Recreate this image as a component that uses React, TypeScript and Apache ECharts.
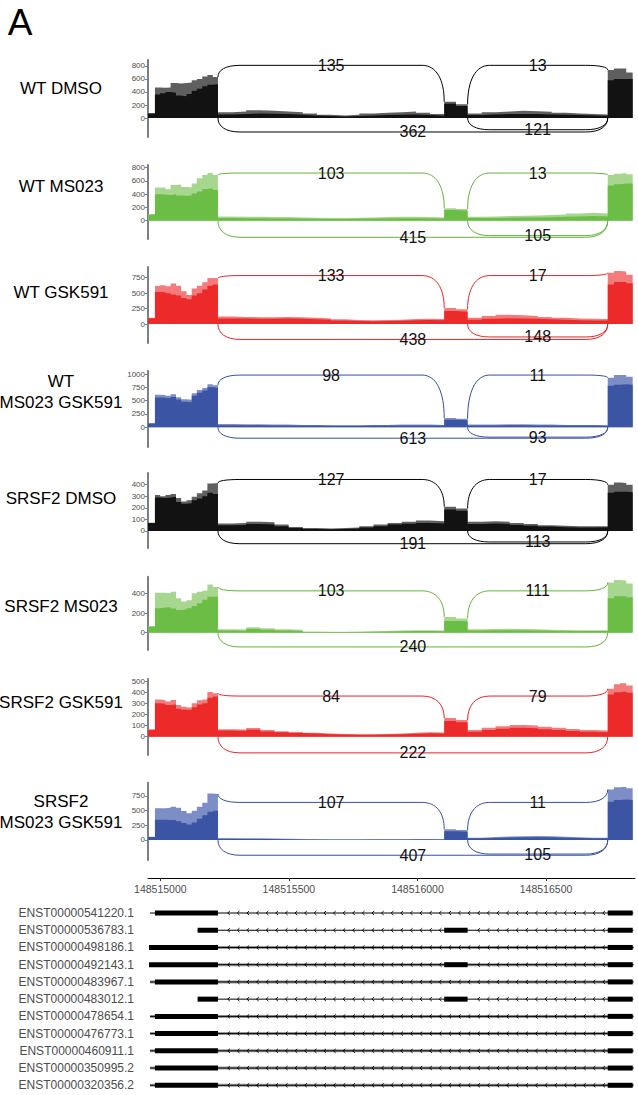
import React, { useEffect, useRef } from "react";
import * as echarts from "echarts";

// ---------------- DATA ----------------
// coverage bins (genomic start of each bin); last bin ends at binEnd
const binStarts = [
  148514952,
  148514979, 148514999, 148515020, 148515040, 148515061, 148515081, 148515102, 148515122, 148515142, 148515163, 148515183, 148515204,
  148515224, 148515279, 148515334, 148515389, 148515444, 148515499, 148515554, 148515609, 148515664, 148515719, 148515774, 148515829, 148515884, 148515939, 148515994, 148516049,
  148516104, 148516150,
  148516195, 148516250, 148516304, 148516359, 148516413, 148516468, 148516522, 148516577, 148516631, 148516686,
  148516740, 148516764, 148516788, 148516812,
];
const binEnd = 148516837;

const panelNames = [
  "WT DMSO", "WT MS023", "WT GSK591", "WT\nMS023 GSK591",
  "SRSF2 DMSO", "SRSF2 MS023", "SRSF2 GSK591", "SRSF2\nMS023 GSK591",
];

const wtDmsoHi = [75, 470, 465, 470, 540, 530, 540, 545, 580, 600, 640, 660, 630, 90, 100, 120, 110, 100, 90, 70, 50, 40, 50, 70, 80, 90, 100, 80, 60, 250, 210, 70, 90, 100, 110, 105, 95, 80, 70, 60, 55, 740, 760, 760, 700];
const wtDmsoLo = [70, 360, 380, 400, 390, 345, 335, 370, 420, 450, 490, 510, 520, 55, 60, 70, 65, 60, 50, 40, 30, 25, 30, 40, 45, 50, 55, 45, 35, 220, 185, 45, 55, 60, 60, 60, 55, 50, 45, 40, 35, 580, 600, 600, 600];
const wtMs023Hi = [100, 500, 500, 475, 540, 545, 510, 505, 560, 640, 690, 720, 690, 65, 60, 60, 55, 55, 50, 45, 40, 40, 45, 50, 55, 60, 60, 55, 50, 190, 175, 60, 65, 70, 75, 80, 85, 95, 110, 120, 110, 690, 710, 720, 700];
const wtMs023Lo = [90, 400, 395, 390, 400, 380, 375, 380, 410, 440, 480, 490, 465, 40, 38, 38, 35, 35, 32, 28, 25, 25, 28, 32, 35, 38, 38, 35, 32, 160, 150, 40, 42, 45, 48, 50, 52, 58, 65, 70, 65, 530, 550, 560, 560];
const wtGsk591Hi = [100, 615, 630, 610, 655, 620, 530, 470, 575, 620, 675, 745, 740, 120, 115, 110, 110, 115, 110, 100, 90, 75, 65, 60, 65, 70, 80, 85, 80, 260, 240, 100, 130, 150, 140, 130, 115, 100, 90, 85, 80, 830, 860, 850, 800];
const wtGsk591Lo = [95, 520, 515, 500, 480, 460, 420, 400, 460, 500, 560, 620, 640, 90, 88, 85, 85, 88, 85, 75, 68, 55, 48, 45, 48, 52, 60, 65, 60, 210, 200, 70, 85, 95, 90, 85, 75, 68, 62, 58, 55, 640, 680, 680, 660];
const wtComboHi = [75, 610, 605, 590, 620, 565, 525, 515, 640, 700, 735, 810, 790, 60, 55, 55, 50, 50, 45, 45, 40, 40, 40, 45, 45, 50, 50, 50, 45, 175, 160, 50, 50, 55, 55, 50, 50, 45, 45, 45, 40, 930, 980, 980, 950];
const wtComboLo = [70, 560, 555, 545, 570, 520, 480, 470, 590, 650, 690, 750, 740, 40, 38, 38, 35, 35, 32, 32, 28, 28, 28, 32, 32, 35, 35, 35, 32, 140, 130, 35, 35, 38, 38, 35, 35, 32, 32, 32, 28, 780, 800, 810, 800];
const srsf2DmsoHi = [72, 310, 300, 310, 320, 285, 255, 265, 295, 325, 350, 410, 415, 65, 70, 80, 75, 55, 35, 25, 22, 25, 30, 40, 55, 70, 80, 90, 85, 210, 195, 80, 85, 80, 70, 60, 50, 45, 40, 40, 42, 400, 420, 415, 400];
const srsf2DmsoLo = [68, 290, 285, 290, 295, 250, 235, 240, 265, 280, 300, 330, 320, 50, 52, 60, 55, 40, 25, 18, 15, 18, 22, 30, 42, 55, 62, 70, 65, 185, 175, 60, 65, 60, 52, 45, 38, 32, 30, 30, 32, 330, 340, 340, 335];
const srsf2Ms023Hi = [68, 405, 405, 400, 415, 350, 318, 330, 400, 415, 425, 490, 465, 35, 32, 55, 45, 35, 30, 12, 10, 10, 12, 15, 18, 22, 25, 25, 22, 160, 145, 35, 38, 40, 38, 35, 30, 28, 25, 25, 25, 510, 535, 530, 500];
const srsf2Ms023Lo = [60, 248, 255, 258, 245, 230, 235, 248, 270, 300, 335, 365, 365, 22, 20, 38, 30, 22, 18, 7, 6, 6, 7, 9, 11, 14, 16, 16, 14, 120, 115, 22, 24, 25, 24, 22, 20, 18, 16, 16, 16, 350, 370, 370, 360];
const srsf2Gsk591Hi = [66, 335, 330, 315, 330, 285, 270, 263, 300, 328, 335, 402, 390, 68, 65, 78, 60, 50, 42, 35, 30, 25, 22, 22, 25, 30, 35, 40, 38, 168, 150, 60, 80, 95, 105, 100, 90, 80, 70, 60, 55, 430, 470, 480, 460];
const srsf2Gsk591Lo = [60, 300, 295, 285, 290, 250, 242, 240, 265, 290, 300, 350, 360, 55, 52, 62, 48, 40, 33, 28, 23, 19, 17, 17, 19, 23, 27, 31, 29, 140, 130, 45, 60, 72, 80, 76, 68, 60, 52, 45, 40, 380, 400, 405, 395];
const srsf2ComboHi = [57, 540, 540, 550, 565, 550, 495, 455, 500, 565, 635, 790, 785, 30, 28, 28, 25, 20, 15, 12, 10, 10, 10, 12, 12, 14, 15, 15, 14, 185, 170, 40, 50, 60, 65, 70, 65, 55, 45, 40, 40, 860, 900, 905, 880];
const srsf2ComboLo = [50, 345, 345, 340, 340, 320, 290, 265, 300, 360, 420, 480, 500, 20, 18, 18, 16, 13, 10, 8, 7, 7, 7, 8, 8, 9, 10, 10, 9, 150, 140, 28, 35, 42, 45, 48, 45, 38, 32, 28, 28, 650, 680, 690, 680];

// y tick labels per panel
const ticks800 = [0, 200, 400, 600, 800];
const ticks750 = [0, 250, 500, 750];
const ticks1000 = [0, 250, 500, 750, 1000];
const ticks400 = [0, 100, 200, 300, 400];
const ticks400b = [0, 200, 400];
const ticks500 = [0, 100, 200, 300, 400, 500];

// splice junctions: J1 exon1->exon2, J2 exon2->exon3, J3 exon1->exon3, J2b exon2->exon3 (drawn below)
const junctionStarts = [148515224, 148516195, 148515224, 148516195];
const junctionEnds = [148516104, 148516740, 148516740, 148516740];
const junctionUp = [true, true, false, false];
const wtDmsoJunctions = [135, 13, 362, 121];
const wtMs023Junctions = [103, 13, 415, 105];
const wtGsk591Junctions = [133, 17, 438, 148];
const wtComboJunctions = [98, 11, 613, 93];
const srsf2DmsoJunctions = [127, 17, 191, 113];
const srsf2Ms023Junctions = [103, 111, 240, null];
const srsf2Gsk591Junctions = [84, 79, 222, null];
const srsf2ComboJunctions = [107, 11, 407, 105];

// genomic axis
const xTicks = [148515000, 148515500, 148516000, 148516500];

// transcripts
const transcriptNames = [
  "ENST00000541220.1", "ENST00000536783.1", "ENST00000498186.1", "ENST00000492143.1",
  "ENST00000483967.1", "ENST00000483012.1", "ENST00000478654.1", "ENST00000476773.1",
  "ENST00000460911.1", "ENST00000350995.2", "ENST00000320356.2",
];
const transcriptStarts = [148514960, 148515145, 148514956, 148514956, 148514960, 148515145, 148514960, 148514960, 148514960, 148514960, 148514960];
const transcriptEnds = [148516840, 148516840, 148516840, 148516840, 148516840, 148516840, 148516840, 148516840, 148516840, 148516840, 148516840];
const exonsLong = [[148514979, 148515224], [148516740, 148516837]];
const exonsShortMid = [[148515145, 148515224], [148516104, 148516195], [148516740, 148516837]];
const exonsFull = [[148514956, 148515224], [148516740, 148516837]];
const exonsFullMid = [[148514956, 148515224], [148516104, 148516195], [148516740, 148516837]];
const transcriptExons = [exonsLong, exonsShortMid, exonsFull, exonsFullMid, exonsLong, exonsShortMid, exonsLong, exonsLong, exonsLong, exonsLong, exonsLong];

// ---------------- LAYOUT / STYLE ----------------
const FONT = '"Liberation Sans", Arial, Helvetica, sans-serif';
const X_MIN = 148514952;
const X_MAX = 148516846;
const GRID_LEFT = 148;
const GRID_RIGHT = 3;
const panelTopPx = [60, 165, 267, 370.7, 473, 576.7, 679, 782.7];
const panelBottomPx = [137, 239, 343, 447, 548, 650, 755, 860];
const panelYMin = [-292, -276, -308, -370, -147, -176, -164, -341];
const panelYMax = [892, 841, 924, 1062, 501, 569, 518, 976];
const upperLevel = [810, 720, 785, 980, 445, 425, 365, 640];
const lowerLevels = [[-215, -180], [-250, -225], [-250, -210], [-205, -185], [-110, -95], [-145], [-145], [-260, -240]];
const labelCenterY = [88, 186, 292, 392, 498, 606, 702, 812];
const haloRows = [2, 3, 4, 6, 7, 8, 9, 10];

const palette: Record<string, { hi: string; lo: string; arc: string }> = {
  black: { hi: "#5f5f5f", lo: "#121212", arc: "#000000" },
  green: { hi: "#a7d78e", lo: "#6bbd45", arc: "#5fb53b" },
  red: { hi: "#f37b7b", lo: "#ed2a2a", arc: "#e82323" },
  blue: { hi: "#7d8ec7", lo: "#3b54a3", arc: "#3450a2" },
};
const panelColor = ["black", "green", "red", "blue", "black", "green", "red", "blue"];

const panelHi = [wtDmsoHi, wtMs023Hi, wtGsk591Hi, wtComboHi, srsf2DmsoHi, srsf2Ms023Hi, srsf2Gsk591Hi, srsf2ComboHi];
const panelLo = [wtDmsoLo, wtMs023Lo, wtGsk591Lo, wtComboLo, srsf2DmsoLo, srsf2Ms023Lo, srsf2Gsk591Lo, srsf2ComboLo];
const panelTicks = [ticks800, ticks800, ticks750, ticks1000, ticks400, ticks400b, ticks500, ticks750];
const panelJunctions = [wtDmsoJunctions, wtMs023Junctions, wtGsk591Junctions, wtComboJunctions, srsf2DmsoJunctions, srsf2Ms023Junctions, srsf2Gsk591Junctions, srsf2ComboJunctions];

function coverageAt(arr: number[], pos: number) {
  let idx = 0;
  for (let i = 0; i < binStarts.length; i++) if (binStarts[i] <= pos) idx = i;
  return arr[idx];
}

function stepData(arr: number[]) {
  const d = binStarts.map((x, i) => [x, arr[i]]);
  d.push([binEnd, 0]);
  return d;
}

function arcData(k: number) {
  const out: number[][] = [];
  let li = 0;
  panelJunctions[k].forEach((n, j) => {
    if (n == null) return;
    const up = junctionUp[j];
    const x0 = junctionStarts[j];
    const x1 = junctionEnds[j];
    const y0 = up ? coverageAt(panelHi[k], x0 - 1) : 0;
    const y1 = up ? coverageAt(panelHi[k], x1) : 0;
    const level = up ? upperLevel[k] : lowerLevels[k][li++];
    out.push([x0, x1, y0, y1, level, n as number]);
  });
  return out;
}

function arcPath(ax: number, ay: number, bx: number, by: number, yl: number) {
  const r = Math.min(22, (bx - ax) / 4);
  return (
    `M${ax} ${ay} ` +
    `C${ax} ${ay + (yl - ay) * 0.6} ${ax + r * 0.35} ${yl} ${ax + r} ${yl} ` +
    `L${bx - r} ${yl} ` +
    `C${bx - r * 0.35} ${yl} ${bx} ${by + (yl - by) * 0.6} ${bx} ${by}`
  );
}

function buildOption() {
  const grid: any[] = [];
  const xAxis: any[] = [];
  const yAxis: any[] = [];
  const series: any[] = [];
  const graphic: any[] = [
    {
      type: "text", x: 20, y: 22,
      style: { text: "A", font: `37px ${FONT}`, fill: "#000", align: "center", verticalAlign: "middle", textAlign: "center", textVerticalAlign: "middle" },
    },
  ];

  for (let k = 0; k < 8; k++) {
    grid.push({ left: GRID_LEFT, right: GRID_RIGHT, top: panelTopPx[k], height: panelBottomPx[k] - panelTopPx[k] });
    xAxis.push({ gridIndex: k, type: "value", min: X_MIN, max: X_MAX, show: false });
    yAxis.push({
      gridIndex: k, type: "value", min: panelYMin[k], max: panelYMax[k],
      axisLine: { show: true, lineStyle: { color: "#7f7f7f", width: 2 } },
      axisTick: { show: true, length: 3, lineStyle: { color: "#7f7f7f", width: 1 }, customValues: panelTicks[k] },
      axisLabel: { customValues: panelTicks[k], fontSize: 8, color: "#4d4d4d", margin: 3, fontFamily: FONT, formatter: (v: number) => String(v) },
      splitLine: { show: false },
    });
    const pal = palette[panelColor[k]];
    series.push({
      type: "line", xAxisIndex: k, yAxisIndex: k, step: "end", symbol: "none", silent: true,
      data: stepData(panelHi[k]), lineStyle: { width: 0, opacity: 0 }, areaStyle: { color: pal.hi, opacity: 1 },
    });
    series.push({
      type: "line", xAxisIndex: k, yAxisIndex: k, step: "end", symbol: "none", silent: true,
      data: stepData(panelLo[k]), lineStyle: { width: 0, opacity: 0 }, areaStyle: { color: pal.lo, opacity: 1 },
    });
    series.push({
      type: "custom", xAxisIndex: k, yAxisIndex: k, clip: false, silent: true, z: 5,
      data: arcData(k),
      encode: { x: [0, 1], y: [2, 3, 4] },
      renderItem: (params: any, api: any) => {
        const x0 = api.value(0), x1 = api.value(1), y0 = api.value(2), y1 = api.value(3), lv = api.value(4), n = api.value(5);
        const a = api.coord([x0, y0]);
        const b = api.coord([x1, y1]);
        const yl = api.coord([x0, lv])[1];
        const d = arcPath(a[0], a[1], b[0], b[1], yl);
        return {
          type: "group",
          children: [
            { type: "path", shape: { pathData: d }, style: { fill: "none", stroke: pal.arc, lineWidth: 1 } },
            {
              type: "text", x: (a[0] + b[0]) / 2, y: yl,
              style: { text: String(n), fill: "#111", fontSize: 16, fontFamily: FONT, align: "center", verticalAlign: "middle", textAlign: "center", textVerticalAlign: "middle" },
            },
          ],
        };
      },
    });
    graphic.push({
      type: "text", x: 61, y: labelCenterY[k],
      style: {
        text: panelNames[k], font: `17px ${FONT}`, fill: "#000", lineHeight: 21,
        align: "center", verticalAlign: "middle", textAlign: "center", textVerticalAlign: "middle",
      },
    });
  }

  // genomic axis (grid 8)
  grid.push({ left: GRID_LEFT, right: GRID_RIGHT, top: 877, height: 1 });
  xAxis.push({
    gridIndex: 8, type: "value", min: X_MIN, max: X_MAX, position: "bottom",
    axisLine: { show: true, onZero: false, lineStyle: { color: "#000", width: 1 } },
    axisTick: { show: true, length: 3, lineStyle: { color: "#333" }, customValues: xTicks },
    axisLabel: { customValues: xTicks, fontSize: 10.5, color: "#4d4d4d", margin: 5, fontFamily: FONT, formatter: (v: number) => String(v) },
    splitLine: { show: false },
  });
  yAxis.push({ gridIndex: 8, type: "value", show: false });

  // transcripts (grid 9)
  grid.push({ left: GRID_LEFT, right: GRID_RIGHT, top: 904.4, height: 189.5 });
  xAxis.push({ gridIndex: 9, type: "value", min: X_MIN, max: X_MAX, show: false });
  yAxis.push({
    gridIndex: 9, type: "category", data: transcriptNames, inverse: true,
    axisLine: { show: false }, axisTick: { show: false }, splitLine: { show: false },
    axisLabel: { fontSize: 12, color: "#4d4d4d", margin: 14, fontFamily: FONT },
  });
  const CHEV_ANCHOR = 148515265;
  const CHEV_STEP = 37.4;
  series.push({
    type: "custom", xAxisIndex: 9, yAxisIndex: 9, silent: true, clip: false,
    data: transcriptNames.map((_, i) => [transcriptStarts[i], i, transcriptEnds[i]]),
    encode: { x: [0, 2], y: 1 },
    renderItem: (params: any, api: any) => {
      const i = params.dataIndex;
      const y = api.coord([X_MIN, i])[1];
      const xs = api.coord([transcriptStarts[i], i])[0];
      const xe = api.coord([transcriptEnds[i], i])[0];
      const children: any[] = [];
      if (haloRows.indexOf(i) >= 0) {
        children.push({ type: "line", shape: { x1: xs, y1: y, x2: xe, y2: y }, style: { stroke: "#999999", lineWidth: 3 } });
      }
      children.push({ type: "line", shape: { x1: xs, y1: y, x2: xe, y2: y }, style: { stroke: "#000", lineWidth: 1 } });
      const ex = transcriptExons[i];
      for (let g = CHEV_ANCHOR; g < transcriptEnds[i]; g += CHEV_STEP) {
        if (g < transcriptStarts[i]) continue;
        let inside = false;
        for (const e of ex) if (g > e[0] - 12 && g < e[1] + 12) inside = true;
        if (inside) continue;
        const p = api.coord([g, i])[0];
        children.push({
          type: "polyline",
          shape: { points: [[p + 1.4, y - 2], [p - 0.8, y], [p + 1.4, y + 2]] },
          style: { stroke: "#000", lineWidth: 0.9, fill: "none" },
        });
      }
      for (const e of ex) {
        const a = api.coord([e[0], i])[0];
        const b = api.coord([e[1], i])[0];
        children.push({ type: "rect", shape: { x: a, y: y - 2.5, width: b - a, height: 5 }, style: { fill: "#000" } });
      }
      return { type: "group", children };
    },
  });

  return {
    animation: false,
    textStyle: { fontFamily: FONT },
    grid, xAxis, yAxis, series, graphic,
  };
}

export default function App() {
  const ref = useRef<HTMLDivElement>(null);
  useEffect(() => {
    if (!ref.current) return;
    const chart = echarts.init(ref.current, undefined, { renderer: "svg" });
    chart.setOption(buildOption() as any);
    return () => chart.dispose();
  }, []);
  return (
    <div
      ref={ref}
      style={{ position: "fixed", left: 0, top: 0, width: 638, height: 1095, background: "#fff" }}
    />
  );
}
